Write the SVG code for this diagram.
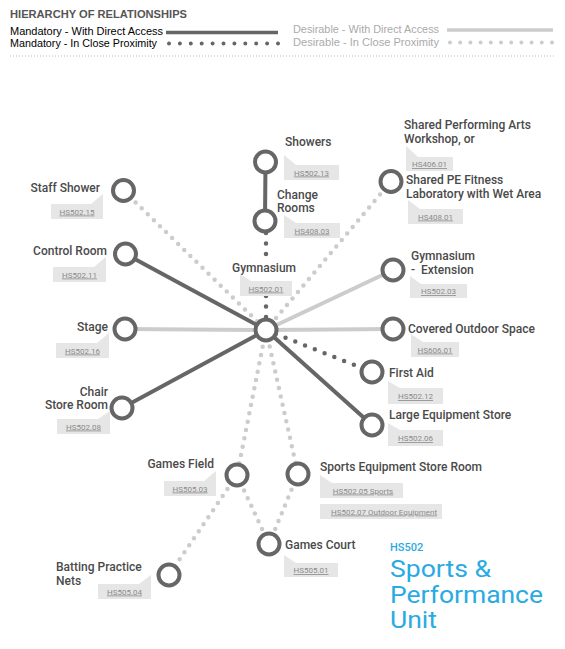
<svg xmlns="http://www.w3.org/2000/svg" width="565" height="649" viewBox="0 0 565 649">
<style>
.bg{fill:#fff}
.nd{fill:#fff;stroke:#666;stroke-width:4}
.lbl{font-family:Roboto,"Noto Sans",sans-serif;font-weight:500;font-size:12px;fill:#4a4a4a}
.end{text-anchor:end}
.tag{fill:#e6e6e6}
.tt{font-family:Roboto,"Noto Sans",sans-serif;font-size:8px;fill:#8a8a8a;text-decoration:underline;text-anchor:middle}
.md{stroke:#666;stroke-width:4;fill:none}
.mp{stroke:#666;stroke-width:4.5;stroke-linecap:round;stroke-dasharray:0 10.5;fill:none}
.dd{stroke:#ccc;stroke-width:4;fill:none}
.dp{stroke:#ccc;stroke-width:4.5;stroke-linecap:round;stroke-dasharray:0 8.5;fill:none}
.lg{font-family:"Liberation Sans",Arial,sans-serif;font-size:10px}
.title{font-family:Roboto,"Noto Sans",sans-serif;fill:#29abe2}
</style>
<rect class="bg" x="0" y="0" width="565" height="649"/>

<g id="legend">
<text x="10" y="18" font-family="Liberation Sans, Arial, sans-serif" font-size="11.5" font-weight="bold" fill="#555" textLength="177" lengthAdjust="spacingAndGlyphs">HIERARCHY OF RELATIONSHIPS</text>
<text class="lg" x="10" y="35" fill="#000" textLength="153" lengthAdjust="spacingAndGlyphs">Mandatory - With Direct Access</text>
<text class="lg" x="10" y="46.5" fill="#000" textLength="147" lengthAdjust="spacingAndGlyphs">Mandatory - In Close Proximity</text>
<line x1="166" y1="32.5" x2="278" y2="32.5" stroke="#666" stroke-width="3.5"/>
<line x1="169" y1="43.5" x2="278" y2="43.5" stroke="#666" stroke-width="4" stroke-linecap="round" stroke-dasharray="0 10.9"/>
<text class="lg" x="293" y="33" fill="#aaa" textLength="146" lengthAdjust="spacingAndGlyphs">Desirable - With Direct Access</text>
<text class="lg" x="293" y="45.5" fill="#aaa" textLength="146" lengthAdjust="spacingAndGlyphs">Desirable - In Close Proximity</text>
<line x1="447" y1="30" x2="553" y2="30" stroke="#ccc" stroke-width="3.5"/>
<line x1="450" y1="42.5" x2="553" y2="42.5" stroke="#ccc" stroke-width="4" stroke-linecap="round" stroke-dasharray="0 10.2"/>
<line x1="10" y1="56" x2="556" y2="56" stroke="#bbb" stroke-width="1" stroke-dasharray="1 2"/>
</g>

<g id="connectors">
<line class="md" x1="265.5" y1="162" x2="265" y2="221"/>
<line class="mp" x1="266" y1="233" x2="266" y2="330"/>
<line class="dp" x1="123.5" y1="190.5" x2="266" y2="330"/>
<line class="md" x1="125.5" y1="254" x2="266" y2="330"/>
<line class="dd" x1="125" y1="329" x2="266" y2="330"/>
<line class="md" x1="122" y1="408" x2="266" y2="330"/>
<line class="dp" x1="391" y1="181.5" x2="266" y2="330"/>
<line class="dd" x1="393" y1="270" x2="266" y2="330"/>
<line class="dd" x1="393" y1="329" x2="266" y2="330"/>
<line class="mp" x1="266" y1="330" x2="372" y2="372"/>
<line class="md" x1="266" y1="330" x2="372" y2="425"/>
<line class="dp" x1="266" y1="330" x2="237" y2="475"/>
<line class="dp" x1="266" y1="330" x2="298" y2="474"/>
<line class="dp" x1="237" y1="475" x2="269" y2="544"/>
<line class="dp" x1="298" y1="474" x2="269" y2="544"/>
<line class="dp" x1="237" y1="475" x2="169" y2="575"/>
</g>

<g id="showers">
<circle class="nd" cx="265.5" cy="162" r="10.5"/>
<text class="lbl" x="285" y="146">Showers</text>
<path class="tag" d="M284 155 L296 165 H339 V180 H284 Z"/>
<text class="tt" x="311.5" y="175.5">HS502.13</text>
</g>

<g id="change-rooms">
<circle class="nd" cx="265" cy="221" r="10.5"/>
<text class="lbl" x="277" y="198.5">Change</text>
<text class="lbl" x="277" y="212">Rooms</text>
<path class="tag" d="M284 215 L296 223 H340 V238 H284 Z"/>
<text class="tt" x="312" y="233.5">HS408.03</text>
</g>

<g id="gymnasium">
<rect class="bg" x="231" y="259" width="62" height="23"/>
<text class="lbl" x="232" y="272">Gymnasium</text>
<path class="tag" d="M240 274 L251 281 H292 V296 H240 Z"/>
<text class="tt" x="266" y="291.5">HS502.01</text>
<circle class="nd" cx="266" cy="330" r="10.5"/>
</g>

<g id="staff-shower">
<circle class="nd" cx="123.5" cy="190.5" r="10.5"/>
<text class="lbl end" x="100" y="192">Staff Shower</text>
<path class="tag" d="M51 204 H91 L103 194 V219 H51 Z"/>
<text class="tt" x="77" y="214.5">HS502.15</text>
</g>

<g id="control-room">
<circle class="nd" cx="125.5" cy="254" r="10.5"/>
<text class="lbl end" x="107" y="255">Control Room</text>
<path class="tag" d="M53 267 H94 L106 257 V282 H53 Z"/>
<text class="tt" x="79.5" y="277.5">HS502.11</text>
</g>

<g id="stage">
<circle class="nd" cx="125" cy="329" r="10.5"/>
<text class="lbl end" x="108" y="331">Stage</text>
<path class="tag" d="M56 343 H97 L109 333 V358 H56 Z"/>
<text class="tt" x="82.5" y="353.5">HS502.16</text>
</g>

<g id="chair-store-room">
<circle class="nd" cx="122" cy="408" r="10.5"/>
<text class="lbl end" x="108" y="395.5">Chair</text>
<text class="lbl end" x="108" y="409">Store Room</text>
<path class="tag" d="M57 419 H98 L110 411 V434 H57 Z"/>
<text class="tt" x="83.5" y="429.5">HS502.08</text>
</g>

<g id="shared-pe-fitness">
<circle class="nd" cx="391" cy="181.5" r="10.5"/>
<text class="lbl" x="404" y="129">Shared Performing Arts</text>
<text class="lbl" x="404" y="142.5">Workshop, or</text>
<path class="tag" d="M406 146 L418 157 H453 V171 H406 Z"/>
<text class="tt" x="429.5" y="167">HS406.01</text>
<text class="lbl" x="406" y="184">Shared PE Fitness</text>
<text class="lbl" x="406" y="197.5">Laboratory with Wet Area</text>
<path class="tag" d="M408 200 L420 209 H463 V224 H408 Z"/>
<text class="tt" x="435.5" y="219.5">HS408.01</text>
</g>

<g id="gymnasium-extension">
<circle class="nd" cx="393" cy="270" r="10.5"/>
<text class="lbl" x="411" y="260">Gymnasium</text>
<text class="lbl" x="411" y="273.5" xml:space="preserve">-  Extension</text>
<path class="tag" d="M410 276 L421 284 H467 V298 H410 Z"/>
<text class="tt" x="438.5" y="294">HS502.03</text>
</g>

<g id="covered-outdoor-space">
<circle class="nd" cx="393" cy="329" r="10.5"/>
<text class="lbl" x="408" y="333">Covered Outdoor Space</text>
<path class="tag" d="M411 334 L423 342 H459 V357 H411 Z"/>
<text class="tt" x="435" y="352.5">HS606.01</text>
</g>

<g id="first-aid">
<circle class="nd" cx="372" cy="372" r="10.5"/>
<text class="lbl" x="389" y="377">First Aid</text>
<path class="tag" d="M388 381 L400 388 H443 V404 H388 Z"/>
<text class="tt" x="415.5" y="399">HS502.12</text>
</g>

<g id="large-equipment-store">
<circle class="nd" cx="372" cy="425" r="10.5"/>
<text class="lbl" x="389" y="419">Large Equipment Store</text>
<path class="tag" d="M388 423 L400 430 H443 V446 H388 Z"/>
<text class="tt" x="415.5" y="441">HS502.06</text>
</g>

<g id="sports-equipment-store-room">
<circle class="nd" cx="298" cy="474" r="10.5"/>
<text class="lbl" x="320" y="471">Sports Equipment Store Room</text>
<path class="tag" d="M320 475 L332 483 H403 V498 H320 Z"/>
<text class="tt" x="363" y="493.5">HS502.05 Sports</text>
<rect class="tag" x="320" y="504" width="122" height="15"/>
<text class="tt" x="384" y="514.5">HS502.07 Outdoor Equipment</text>
</g>

<g id="games-field">
<circle class="nd" cx="237" cy="475" r="10.5"/>
<text class="lbl end" x="214" y="468">Games Field</text>
<path class="tag" d="M164 481 H204 L216 471 V496 H164 Z"/>
<text class="tt" x="190" y="491.5">HS505.03</text>
</g>

<g id="games-court">
<circle class="nd" cx="269" cy="544" r="10.5"/>
<text class="lbl" x="285" y="549">Games Court</text>
<path class="tag" d="M284 555 L296 563 H338 V577 H284 Z"/>
<text class="tt" x="311" y="573">HS505.01</text>
</g>

<g id="batting-practice-nets">
<circle class="nd" cx="169" cy="575" r="10.5"/>
<text class="lbl" x="56" y="571">Batting Practice</text>
<text class="lbl" x="56" y="584.5">Nets</text>
<path class="tag" d="M98 584 H139 L151 575 V599 H98 Z"/>
<text class="tt" x="124.5" y="594.5">HS505.04</text>
</g>

<g id="title">
<text class="title" x="390" y="551" font-size="11" font-weight="500">HS502</text>
<text class="title" x="390" y="577" font-size="24" textLength="101" lengthAdjust="spacingAndGlyphs">Sports &amp;</text>
<text class="title" x="390" y="602.5" font-size="24" textLength="153" lengthAdjust="spacingAndGlyphs">Performance</text>
<text class="title" x="390" y="628" font-size="24" textLength="47" lengthAdjust="spacingAndGlyphs">Unit</text>
</g>
</svg>
